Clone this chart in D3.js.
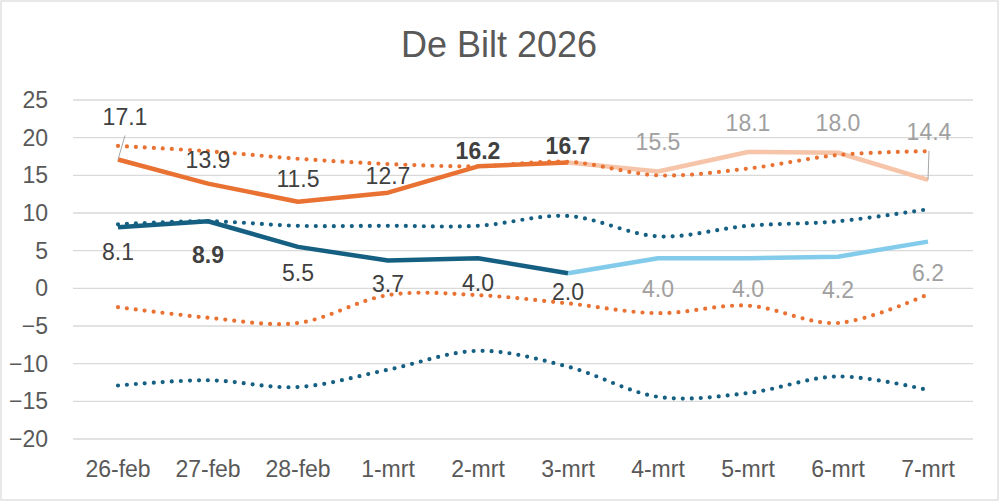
<!DOCTYPE html>
<html>
<head>
<meta charset="utf-8">
<script src="https://cdn.jsdelivr.net/npm/d3@7"></script>
<style>
  body { margin: 0; background: #fff; }
  svg { display: block; font-family: "Liberation Sans", Arial, sans-serif; }
</style>
</head>
<body>
<div id="chart"></div>
<script>
// data
var categories = ["26-feb", "27-feb", "28-feb", "1-mrt", "2-mrt", "3-mrt", "4-mrt", "5-mrt", "6-mrt", "7-mrt"];
var tMax = [17.1, 13.9, 11.5, 12.7, 16.2, 16.7, 15.5, 18.1, 18.0, 14.4];
var tMin = [8.1, 8.9, 5.5, 3.7, 4.0, 2.0, 4.0, 4.0, 4.2, 6.2];
var maxHigh = [18.9, 18.2, 17.2, 16.5, 16.2, 16.8, 15.0, 15.9, 17.7, 18.2];
var maxLow = [-2.5, -3.9, -4.6, -0.9, -0.9, -2.0, -3.3, -2.3, -4.6, -0.8];
var minHigh = [8.5, 8.9, 8.3, 8.3, 8.3, 9.6, 6.9, 8.3, 8.9, 10.5];
var minLow = [-12.9, -12.2, -13.1, -10.8, -8.3, -10.4, -14.4, -13.9, -11.7, -13.5];
var yTicks = [-20, -15, -10, -5, 0, 5, 10, 15, 20, 25];
var lastMeasured = 5;          // 3-mrt: last measured day, rest is forecast
var boldMax = [4, 5];           // 16.2, 16.7
var boldMin = [1];              // 8.9

// label placement (pixels from the point)
var maxLabelDx = [7, 0, 0, 0, 0, 0, 0, 0, 0, 1];
var maxLabelDy = [-43, -24, -23, -17, -16, -17, -30, -29, -30, -48];
var minLabelDy = [24, 33, 26, 23, 25, 18, 31, 31, 33, 31];

var W = 1000, H = 502;
var fs = 23;
var orange = "#E97132", orangeLight = "#F6C4A8";
var blue = "#156082", blueLight = "#83CBEB";
var dark = "#404040", grey = "#A0A0A0";

var svg = d3.select("#chart").append("svg").attr("width", W).attr("height", H);

// frame
svg.append("rect").attr("x", 1).attr("y", 1).attr("width", 997).attr("height", 499)
  .attr("fill", "#fff").attr("stroke", "#D9D9D9").attr("stroke-width", 1.2);

svg.append("text").attr("x", 499).attr("y", 57).attr("text-anchor", "middle")
  .attr("font-size", 36).attr("fill", "#595959").text("De Bilt 2026");

var x = d3.scaleBand().domain(categories).range([73, 973]);
var y = d3.scaleLinear().domain([-20, 25]).range([439, 100]);
function cx(i) { return x(categories[i]) + x.bandwidth() / 2; }

// gridlines
svg.append("g").selectAll("line").data(yTicks).enter().append("line")
  .attr("x1", 73).attr("x2", 973)
  .attr("y1", function(d) { return y(d); }).attr("y2", function(d) { return y(d); })
  .attr("stroke", "#D9D9D9").attr("stroke-width", 1.3);

// y axis
var yAxis = d3.axisLeft(y).tickValues(yTicks).tickSize(0).tickPadding(0);
var gy = svg.append("g").attr("transform", "translate(48,0)").call(yAxis);
gy.select(".domain").remove();
gy.selectAll("text").attr("font-size", fs).attr("fill", "#595959")
  .attr("font-family", "Liberation Sans, Arial, sans-serif");

// x axis
var xAxis = d3.axisBottom(x).tickSize(0).tickPadding(0);
var gx = svg.append("g").attr("transform", "translate(0,461)").call(xAxis);
gx.select(".domain").remove();
gx.selectAll("text").attr("font-size", fs).attr("fill", "#595959")
  .attr("font-family", "Liberation Sans, Arial, sans-serif");

var straight = d3.line()
  .x(function(d) { return cx(d.i); })
  .y(function(d) { return y(d.v); });
var smooth = d3.line()
  .x(function(d) { return cx(d.i); })
  .y(function(d) { return y(d.v); })
  .curve(d3.curveCardinal.tension(0));

function pts(arr, from, to) {
  var out = [];
  for (var i = from; i <= to; i++) out.push({ i: i, v: arr[i] });
  return out;
}

// solid lines: measured part dark, forecast part light
function solid(arr, c1, c2) {
  svg.append("path").datum(pts(arr, lastMeasured, arr.length - 1))
    .attr("d", straight).attr("fill", "none").attr("stroke", c2)
    .attr("stroke-width", 4.5).attr("stroke-linejoin", "round");
  svg.append("path").datum(pts(arr, 0, lastMeasured))
    .attr("d", straight).attr("fill", "none").attr("stroke", c1)
    .attr("stroke-width", 4.5).attr("stroke-linejoin", "round");
}
solid(tMax, orange, orangeLight);
solid(tMin, blue, blueLight);

// dotted lines
[[maxHigh, orange], [maxLow, orange], [minHigh, blue], [minLow, blue]].forEach(function(s) {
  svg.append("path").datum(pts(s[0], 0, s[0].length - 1))
    .attr("d", smooth).attr("fill", "none").attr("stroke", s[1])
    .attr("stroke-width", 4.2).attr("stroke-linecap", "round")
    .attr("stroke-dasharray", "0 9");
});

// data labels
function labels(arr, dxs, dys, bold) {
  var g = svg.append("g");
  arr.forEach(function(v, i) {
    var px = cx(i), py = y(v);
    var lx = px + dxs[i], ly = py + dys[i];
    if (Math.abs(dys[i]) > 35) {
      g.append("line").attr("x1", px).attr("y1", py)
        .attr("x2", lx).attr("y2", ly + (dys[i] < 0 ? 19 : -19))
        .attr("stroke", "#A6A6A6").attr("stroke-width", 1);
    }
    g.append("text").attr("x", lx).attr("y", ly + 0.36 * fs)
      .attr("text-anchor", "middle").attr("font-size", fs)
      .attr("font-weight", bold.indexOf(i) >= 0 ? "bold" : "normal")
      .attr("fill", i > lastMeasured ? grey : dark)
      .text(d3.format(".1f")(v));
  });
}
labels(tMax, maxLabelDx, maxLabelDy, boldMax);
labels(tMin, [0, 0, 0, 0, 0, 0, 0, 0, 0, 0], minLabelDy, boldMin);
</script>
</body>
</html>
